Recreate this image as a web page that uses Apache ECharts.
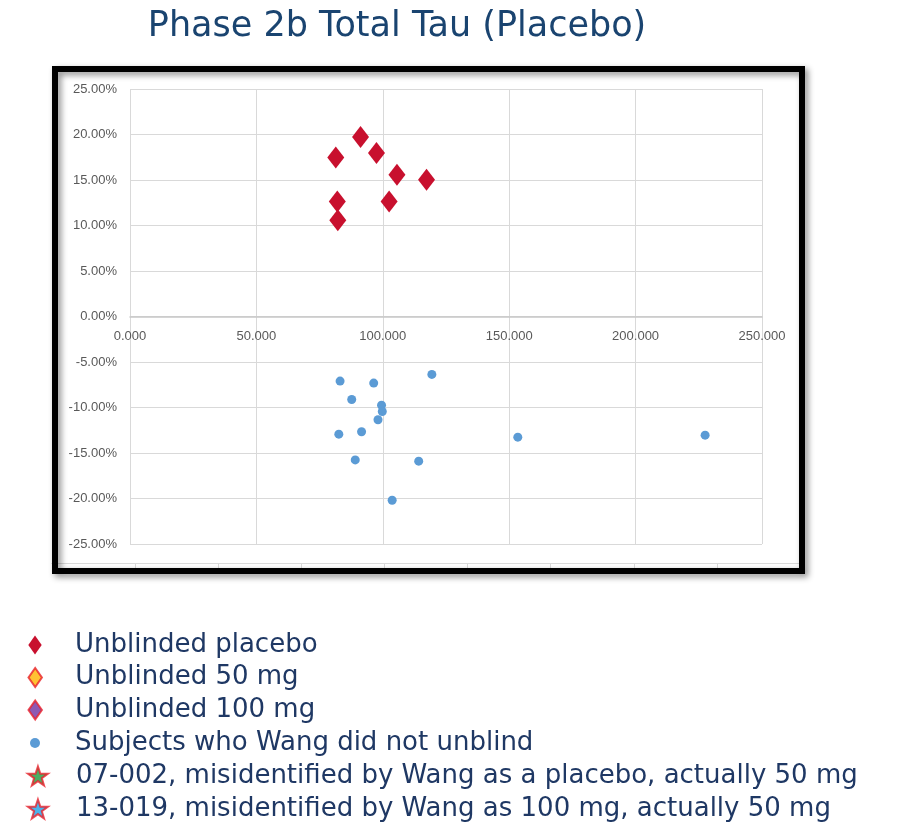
<!DOCTYPE html>
<html><head><meta charset="utf-8">
<script src="https://cdn.jsdelivr.net/npm/echarts@6/dist/echarts.min.js"></script>
<style>html,body{margin:0;padding:0;background:#fff}#c{width:897px;height:830px}</style>
</head><body><div id="c"></div>
<script>
// ---- data ----
const titleText = 'Phase 2b Total Tau (Placebo)';
const xTicks = [0, 50, 100, 150, 200, 250];
const yTicks = [-25, -20, -15, -10, -5, 0, 5, 10, 15, 20, 25];
const placeboX = [91.2, 97.5, 81.4, 105.6, 117.3, 82.0, 102.5, 82.2];
const placeboY = [19.72, 17.96, 17.48, 15.57, 15.02, 12.64, 12.64, 10.58];
const blindX = [83.1, 96.4, 119.4, 87.7, 99.5, 99.8, 98.1, 91.6, 82.6, 153.4, 227.5, 89.1, 114.2, 103.7];
const blindY = [-7.10, -7.32, -6.36, -9.12, -9.74, -10.44, -11.35, -12.67, -12.93, -13.26, -13.04, -15.76, -15.90, -20.19];
const seriesNames = [
  'Unblinded placebo',
  'Unblinded 50 mg',
  'Unblinded 100 mg',
  'Subjects who Wang did not unblind',
  '07-002, misidentified by Wang as a placebo, actually 50 mg',
  '13-019, misidentified by Wang as 100 mg, actually 50 mg'
];
// ---- end data ----

const DIAMOND = 'path://M6,0L12,8.5L6,17L0,8.5Z';
const STAR = 'path://M50,0L61.8,35.1L98.1,35.1L68.8,56.7L79.4,91.9L50,70.5L20.6,91.9L31.2,56.7L1.9,35.1L38.2,35.1Z';
const pair = (xs, ys) => xs.map((x, i) => [x, ys[i]]);

const chart = echarts.init(document.getElementById('c'), null, {renderer: 'canvas'});
const legendFont = 'DejaVu Sans';
const rowCenters = [645, 677.5, 710, 743, 776, 809];
const iconH = [19, 19, 19, 10, 19, 19];
const iconBoxW = [70, 70, 70, 70, 66, 66];
const iconLeft = [28.3, 27.5, 27.5, 30, 27, 27];
const legends = seriesNames.map((n, i) => ({
  data: [n], orient: 'vertical', left: iconLeft[i], top: rowCenters[i] - 15, padding: 0,
  itemWidth: iconBoxW[i], itemHeight: iconH[i], selectedMode: false,
  textStyle: {fontFamily: legendFont, fontSize: 26, color: '#1F3864', lineHeight: 30}
}));

chart.setOption({
  animation: false,
  backgroundColor: '#fff',
  title: {text: titleText, left: 392, top: 4, textAlign: 'center',
    textStyle: {fontFamily: legendFont, fontSize: 35, fontWeight: 'normal', color: '#1A4470'}},
  legend: legends,
  grid: [
    {left: 130, right: 135, top: 89, bottom: 286},
    {left: 51.8, right: 96.8, top: 558, height: 5}
  ],
  xAxis: [
    {type: 'value', gridIndex: 0, min: xTicks[0], max: xTicks[xTicks.length - 1], interval: 50,
      position: 'bottom', offset: -227.5,
      axisLine: {onZero: false, lineStyle: {color: '#C8C8C8', width: 1.5}},
      axisTick: {show: false},
      axisLabel: {margin: 13, color: '#595959', fontFamily: 'Liberation Sans', fontSize: 13,
        formatter: v => v.toFixed(3)},
      splitLine: {lineStyle: {color: '#D9D9D9'}}},
    {type: 'value', gridIndex: 1, min: 0, max: 9, interval: 1, position: 'bottom',
      axisLine: {lineStyle: {color: '#D9D9D9'}}, axisTick: {length: 5, lineStyle: {color: '#D9D9D9'}},
      axisLabel: {show: false}, splitLine: {show: false}}
  ],
  yAxis: [
    {type: 'value', gridIndex: 0, min: yTicks[0], max: yTicks[yTicks.length - 1], interval: 5,
      axisLine: {show: false}, axisTick: {show: false},
      axisLabel: {margin: 13, color: '#595959', fontFamily: 'Liberation Sans', fontSize: 13,
        formatter: v => v.toFixed(2) + '%'},
      splitLine: {lineStyle: {color: '#D9D9D9'}}},
    {type: 'value', gridIndex: 1, show: false}
  ],
  graphic: [{
    type: 'rect', z: 100, silent: true,
    shape: {x: 55, y: 69, width: 747, height: 502},
    style: {fill: null, stroke: '#000', lineWidth: 6, shadowBlur: 6, shadowOffsetX: 3, shadowOffsetY: 3, shadowColor: 'rgba(0,0,0,0.45)'}
  }],
  series: [
    {name: seriesNames[0], type: 'scatter', symbol: DIAMOND, symbolSize: [17, 22],
      itemStyle: {color: '#C8102E', opacity: 1}, data: pair(placeboX, placeboY)},
    {name: seriesNames[1], type: 'scatter', symbol: DIAMOND, symbolSize: [14, 19],
      itemStyle: {color: '#FFB300', borderColor: '#E8202A', borderWidth: 1.5}, data: []},
    {name: seriesNames[2], type: 'scatter', symbol: DIAMOND, symbolSize: [14, 19],
      itemStyle: {color: '#7030A0', borderColor: '#E8202A', borderWidth: 1.5}, data: []},
    {name: seriesNames[3], type: 'scatter', symbol: 'circle', symbolSize: 9,
      itemStyle: {color: '#5B9BD5', opacity: 1}, data: pair(blindX, blindY)},
    {name: seriesNames[4], type: 'scatter', symbol: STAR, symbolSize: 17,
      itemStyle: {color: '#1E9A3C', borderColor: '#E8202A', borderWidth: 1.5}, data: []},
    {name: seriesNames[5], type: 'scatter', symbol: STAR, symbolSize: 17,
      itemStyle: {color: '#1EA0E6', borderColor: '#E8202A', borderWidth: 1.5}, data: []}
  ]
});
</script></body></html>
